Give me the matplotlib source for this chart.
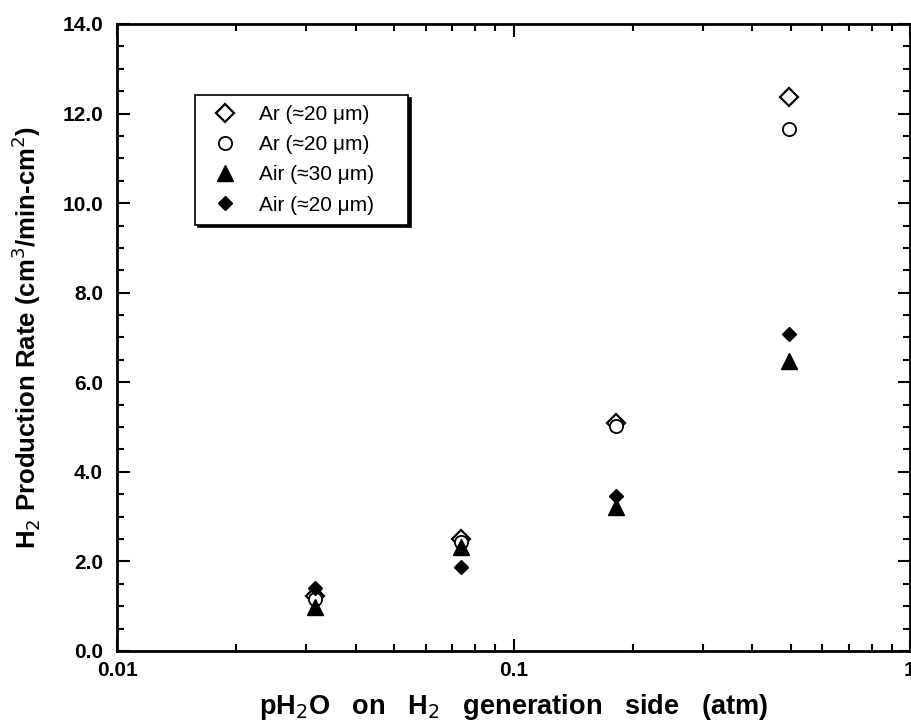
#!/usr/bin/env python3
# coding: utf-8

"""H2 production rate vs pH2O on the H2 generation side."""

import matplotlib
matplotlib.use("Agg")
import matplotlib.pyplot as plt
from matplotlib.ticker import FixedLocator, LogLocator, NullFormatter, FormatStrFormatter

plt.rcParams["font.family"] = ["Liberation Sans", "DejaVu Sans"]

ph2o = [0.0316, 0.0736, 0.181, 0.496]
ar_diamond = [1.22, 2.50, 5.10, 12.38]
ar_circle = [1.15, 2.44, 5.02, 11.65]
air_triangle = [0.98, 2.33, 3.22, 6.48]
air_diamond = [1.40, 1.88, 3.46, 7.08]

labels = ["Ar (\u224820 \u03bcm)", "Ar (\u224820 \u03bcm)",
          "Air (\u224830 \u03bcm)", "Air (\u224820 \u03bcm)"]

fig = plt.figure(figsize=(9.12, 7.25), dpi=100)
ax = fig.add_axes([0.1283, 0.1021, 0.8695, 0.8648])

ax.plot(ph2o, ar_diamond, "D", ms=9, mfc="white", mec="black", mew=1.6,
        ls="none", label=labels[0])
ax.plot(ph2o, ar_circle, "o", ms=9.5, mfc="white", mec="black", mew=1.3,
        ls="none", label=labels[1])
ax.plot(ph2o, air_triangle, "^", ms=12, mfc="black", mec="black", mew=1,
        ls="none", label=labels[2])
ax.plot(ph2o, air_diamond, "D", ms=7.5, mfc="black", mec="black", mew=1,
        ls="none", label=labels[3])

ax.set_xscale("log")
ax.set_xlim(0.01, 1)
ax.set_ylim(0, 14)

ax.xaxis.set_major_locator(FixedLocator([0.01, 0.1, 1]))
ax.xaxis.set_major_formatter(FormatStrFormatter("%g"))
ax.xaxis.set_minor_locator(LogLocator(base=10, subs=range(2, 10)))
ax.xaxis.set_minor_formatter(NullFormatter())
ax.set_yticks([0, 2, 4, 6, 8, 10, 12, 14])
ax.yaxis.set_major_formatter(FormatStrFormatter("%.1f"))
ax.set_yticks([i * 0.5 for i in range(29)], minor=True)

ax.tick_params(which="both", direction="in", top=True, right=True,
               width=1.5, labelsize=15)
ax.tick_params(axis="y", which="major", length=9, pad=10)
ax.tick_params(axis="x", which="major", length=9, pad=7)
ax.tick_params(which="minor", length=5)
for lab in ax.get_xticklabels() + ax.get_yticklabels():
    lab.set_fontweight("bold")
for s in ax.spines.values():
    s.set_linewidth(2)

ax.set_xlabel("pH$_2$O   on   H$_2$   generation   side   (atm)", fontsize=19.5,
              fontweight="bold", labelpad=9)
ax.set_ylabel("H$_2$ Production Rate (cm$^3$/min-cm$^2$)", fontsize=18.5,
              fontweight="bold", labelpad=14)

leg = ax.legend(loc="upper left", bbox_to_anchor=(0.0984, 0.5, 0.2686, 0.3868),
                mode="expand", fontsize=15, frameon=True, fancybox=False,
                shadow={"color": "black", "alpha": 1},
                edgecolor="black", borderpad=0.48, handletextpad=0.7,
                labelspacing=0.54, borderaxespad=0, handlelength=1.9)
leg.get_frame().set_linewidth(1.2)

fig.savefig("out.png", dpi=100)
